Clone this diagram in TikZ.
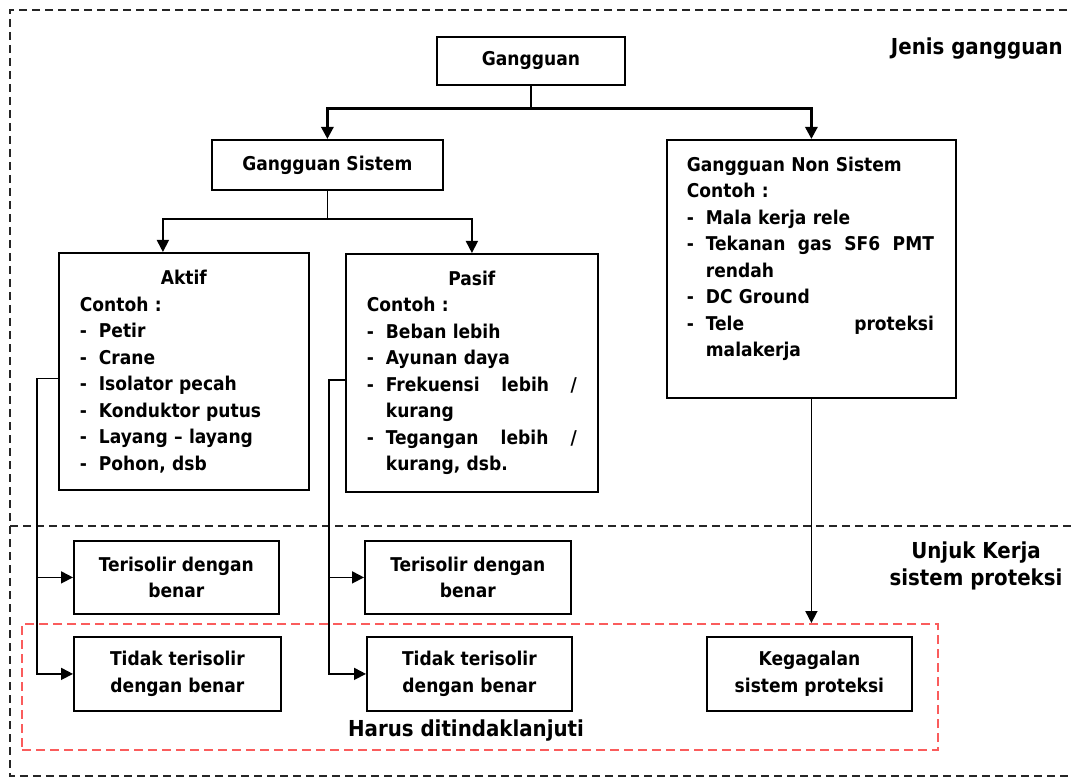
\documentclass[tikz,border=0pt]{standalone}
\usepackage{fontspec}
\setmainfont{DejaVu Sans Condensed}
\usetikzlibrary{arrows.meta}
\definecolor{framered}{RGB}{250,92,92}
\newcommand{\boxfont}{\fontsize{19}{26.5}\selectfont\bfseries}
\newcommand{\zonefont}{\fontsize{22}{27}\selectfont\bfseries}
\newcommand{\dashitem}[1]{\makebox[19pt][l]{-}#1}
\newcommand{\fullitem}[2]{\makebox[19pt][l]{-}\makebox[#1][l]{#2}}
\newcommand{\wrapline}[1]{\hspace*{19pt}#1}
\begin{document}
\begin{tikzpicture}[x=1pt,y=-1pt,
  box/.style={draw,line width=1.8pt,anchor=north west,inner sep=0pt,font=\boxfont,align=center},
  listbox/.style={box,align=left,inner xsep=21pt},
  conn/.style={line width=1.7pt},
  arr/.style={conn,-{Triangle[length=12pt,width=12pt]}},
  bus/.style={line width=2.8pt,-{Triangle[length=12pt,width=12pt]}},
  zone/.style={line width=1.8pt,dash pattern=on 8pt off 5pt,black!85},
  lbl/.style={font=\zonefont,inner sep=0pt,align=center}]
\useasboundingbox (0,0) rectangle (1071,778);
% zones
\draw[zone] (1080,10) -| (10,776) -- (1080,776);
\draw[zone] (10,526) -- (1080,526);
\node[draw=framered,line width=2.2pt,dash pattern=on 9pt off 5pt,anchor=north west,
  inner sep=0pt,minimum width=916pt,minimum height=126pt] (tindak) at (21,623) {};
\node[lbl,anchor=east] (jenis) at (1063,49) {Jenis gangguan};
\node[lbl] (unjuk) at (976,566) {Unjuk Kerja\\sistem proteksi};
\node[lbl] (harus) at (466,731) {Harus ditindaklanjuti};
% jenis gangguan
\node[box,minimum width=188pt,minimum height=48pt] (gang) at (436,36) {Gangguan};
\node[box,minimum width=231pt,minimum height=50pt] (sis) at (211,139) {Gangguan Sistem};
\node[listbox,inner xsep=20pt,text width=249pt,minimum width=289pt,minimum height=258pt] (non) at (666,139)
  {Gangguan Non Sistem\\Contoh :\\\dashitem{Mala kerja rele}\\\fullitem{228pt}{Tekanan\hfill gas\hfill SF6\hfill PMT}\\
   \wrapline{rendah}\\\dashitem{DC Ground}\\\fullitem{228pt}{Tele\hfill proteksi}\\\wrapline{malakerja}\\[-2pt]\mbox{}};
\node[listbox,text width=208pt,minimum width=250pt,minimum height=237pt] (aktif) at (58,252)
  {\makebox[\hsize]{Aktif}\\Contoh :\\\dashitem{Petir}\\\dashitem{Crane}\\\dashitem{Isolator pecah}\\
   \dashitem{Konduktor putus}\\\dashitem{Layang – layang}\\\dashitem{Pohon, dsb}};
\node[listbox,text width=210pt,minimum width=252pt,minimum height=238pt] (pasif) at (345,253)
  {\makebox[\hsize]{Pasif}\\Contoh :\\\dashitem{Beban lebih}\\\dashitem{Ayunan daya}\\
   \fullitem{191pt}{Frekuensi\hfill lebih\hfill /}\\\wrapline{kurang}\\
   \fullitem{191pt}{Tegangan\hfill lebih\hfill /}\\\wrapline{kurang, dsb.}};
% unjuk kerja
\node[box,minimum width=205pt,minimum height=73pt] (ter1) at (73,540) {Terisolir dengan\\benar};
\node[box,minimum width=207pt,minimum height=74pt] (tid1) at (73,636) {Tidak terisolir\\dengan benar};
\node[box,minimum width=206pt,minimum height=73pt] (ter2) at (364,540) {Terisolir dengan\\benar};
\node[box,minimum width=205pt,minimum height=74pt] (tid2) at (366,636) {Tidak terisolir\\dengan benar};
\node[box,minimum width=205pt,minimum height=74pt] (gagal) at (706,636) {Kegagalan\\sistem proteksi};
% connectors
\draw[conn] (gang.south) -- ++(0,23) coordinate (b1);
\draw[bus] (b1) -| (sis.north);
\draw[bus] (b1) -| (non.north);
\draw[conn] (sis.south) -- ++(0,28) coordinate (b2);
\draw[arr] (b2) -| ([xshift=-21pt]aktif.north);
\draw[arr] (b2) -| (pasif.north);
\draw[arr] ([yshift=-7pt]aktif.west) -- ++(-21,0) coordinate (la) |- (tid1.west);
\draw[arr] (la |- ter1.west) -- (ter1.west);
\draw[arr] ([yshift=-7pt]pasif.west) -- ++(-16,0) coordinate (lp) |- (tid2.west);
\draw[arr] (lp |- ter2.west) -- (ter2.west);
\draw[arr] (non.south) -- (non.south |- tindak.north);
\end{tikzpicture}
\end{document}
